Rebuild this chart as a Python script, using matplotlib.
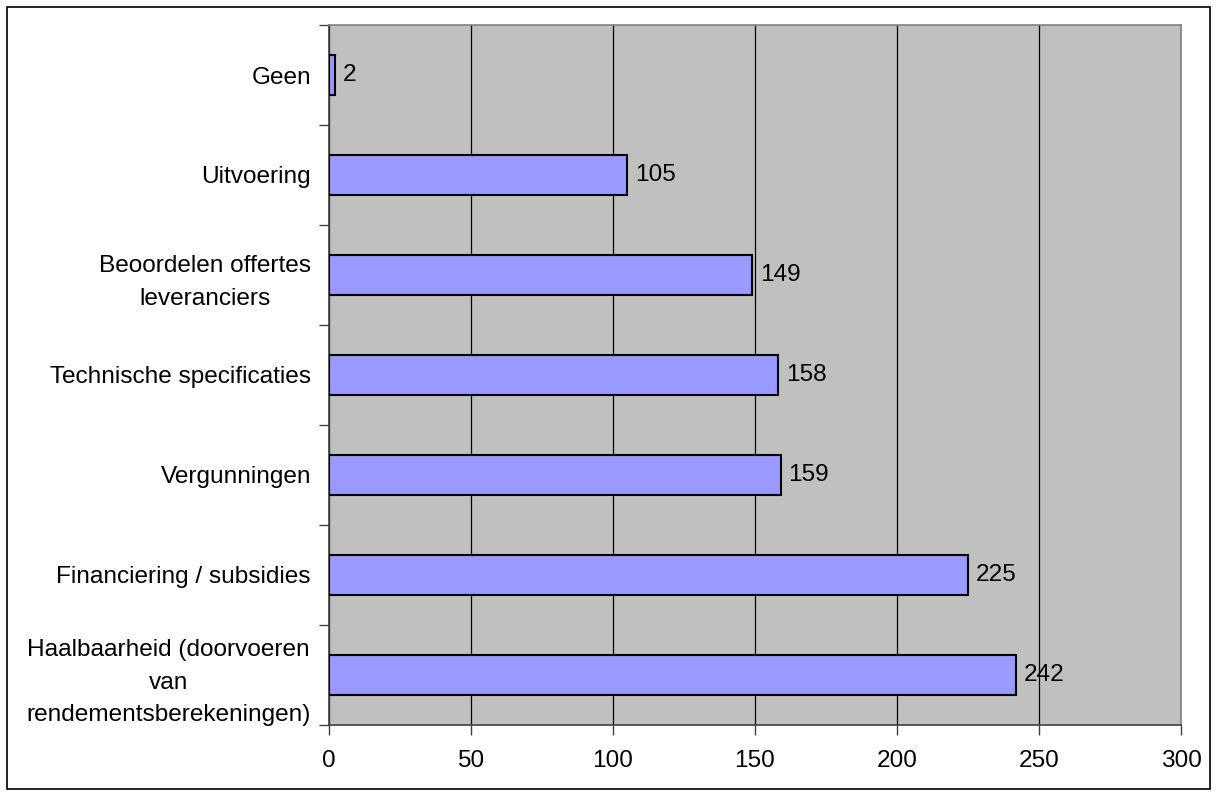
import numpy as np
import matplotlib
matplotlib.use("Agg")
from matplotlib import pyplot as plt
from matplotlib.patches import Rectangle

plt.rcParams['font.family'] = ['Liberation Sans', 'DejaVu Sans']

# categories from bottom to top
categories = ['Haalbaarheid (doorvoeren\nvan\nrendementsberekeningen)',
              'Financiering / subsidies',
              'Vergunningen',
              'Technische specificaties',
              'Beoordelen offertes\nleveranciers',
              'Uitvoering',
              'Geen']
values = [242, 225, 159, 158, 149, 105, 2]
x_ticks = [0, 50, 100, 150, 200, 250, 300]

fs = 17.6

fig = plt.figure(figsize=(12.18, 7.96), dpi=100)
# outer frame
fig.patches.append(Rectangle((7 / 1218, 7 / 796), 1203 / 1218, 782 / 796,
                             transform=fig.transFigure, fill=False,
                             edgecolor='black', linewidth=1.2))

ax = fig.add_axes([329 / 1218, 1 - 725 / 796, 852 / 1218, 700 / 796])
ax.set_facecolor('#C0C0C0')

y = np.arange(len(categories))
bars = ax.barh(y, values, height=0.4, color='#9999FF', edgecolor='black',
               linewidth=1.5, zorder=3)

for rect, v in zip(bars, values):
    ax.text(rect.get_width() + 2.8, rect.get_y() + rect.get_height() / 2, str(v),
            va='center', ha='left', fontsize=fs, zorder=4)

ax.set_xlim(0, 300)
ax.set_ylim(-0.5, len(categories) - 0.5)
ax.set_xticks(x_ticks)
ax.set_xticklabels([str(t) for t in x_ticks], fontsize=fs)
ax.xaxis.grid(True, color='black', linewidth=0.9, zorder=1)
ax.set_axisbelow(True)

# category labels centred, tick marks between categories
ax.set_yticks(y)
ax.set_yticklabels(categories, fontsize=fs)
for lab in ax.get_yticklabels():
    lab.set_multialignment('center')
    lab.set_linespacing(1.6)
ax.tick_params(axis='y', length=0, pad=13)
ax.set_yticks(np.arange(-0.5, len(categories), 1), minor=True)
ax.tick_params(axis='y', which='minor', length=7, width=1, color='#404040',
               direction='out')
ax.tick_params(axis='x', length=7, width=1, color='#404040', direction='out',
               pad=11)

ax.spines['left'].set_color('#404040')
ax.spines['bottom'].set_color('#404040')
ax.spines['top'].set_color('#808080')
ax.spines['right'].set_color('#808080')
for s in ax.spines.values():
    s.set_linewidth(1.2)

fig.savefig('out.png', dpi=100)
